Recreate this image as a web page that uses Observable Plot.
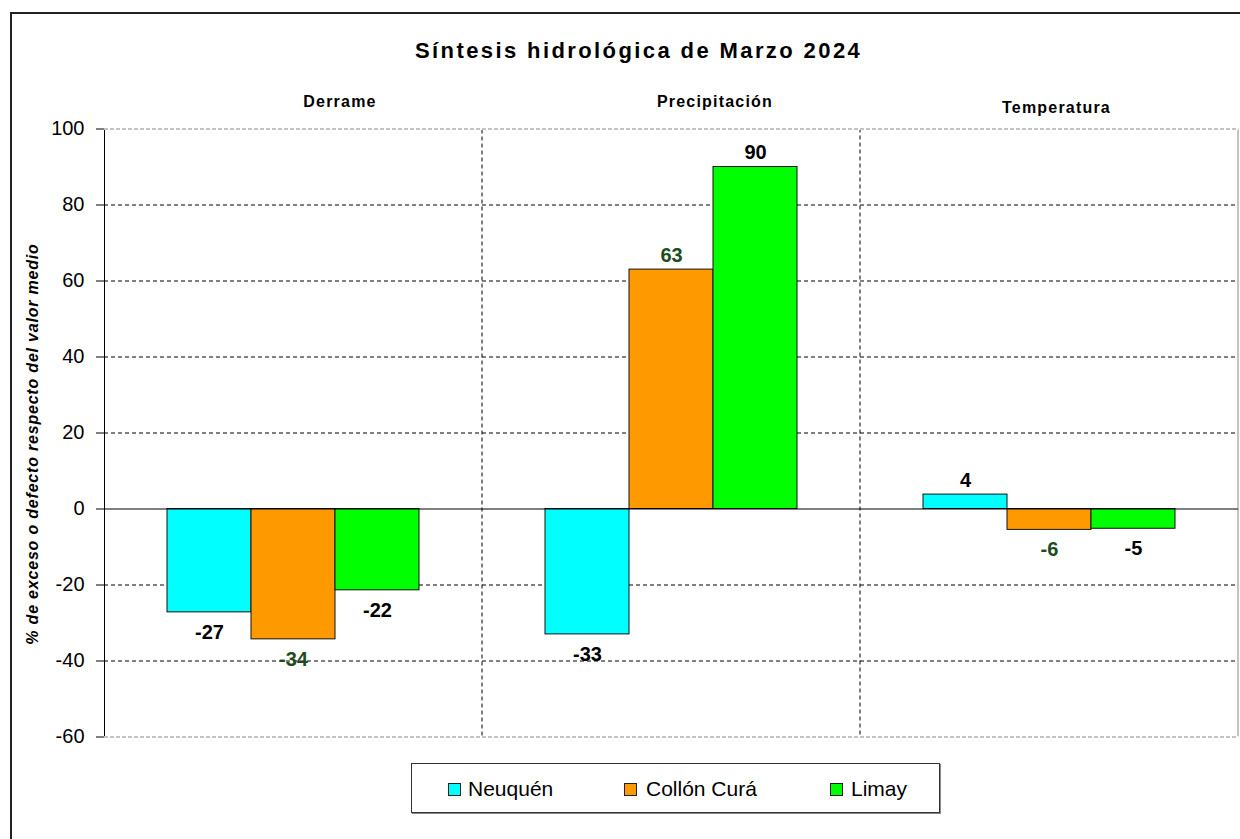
<!DOCTYPE html>
<html>
<head>
<meta charset="utf-8">
<script src="https://cdn.jsdelivr.net/npm/d3@7"></script>
<script src="https://cdn.jsdelivr.net/npm/@observablehq/plot@0.6"></script>
<style>
  html, body { margin: 0; padding: 0; background: #fff; }
  body { width: 1240px; height: 839px; position: relative; overflow: hidden;
         font-family: "Liberation Sans", Arial, sans-serif; color: #000; }
  #frame { position: absolute; left: 10px; top: 12px; width: 1400px; height: 1000px;
           border-left: 2px solid #222; border-top: 2px solid #222; box-sizing: border-box; }
  #title { position: absolute; left: 415px; top: 38px; font-size: 22px; font-weight: bold;
           letter-spacing: 2.4px; white-space: nowrap; line-height: 26px; }
  #chart { position: absolute; left: 0; top: 70px; }
  #ylabel { position: absolute; left: -217px; top: 434px; width: 500px; height: 20px; line-height: 20px;
            text-align: center; transform: rotate(-90deg); font-size: 16px; font-weight: bold;
            font-style: italic; letter-spacing: 0.8px; white-space: nowrap; }
  #legend { position: absolute; left: 411px; top: 763px; width: 529px; height: 50px; box-sizing: border-box;
            border: 1.5px solid #333; box-shadow: 1px 1px 0 #888; background: #fff; }
  .item { position: absolute; top: 0; height: 50px; }
  .sw { position: absolute; top: 19px; width: 13px; height: 13px; box-sizing: border-box; border: 1px solid #222; }
  .lbl { position: absolute; top: 13px; font-size: 21px; line-height: 24px; white-space: nowrap; }
</style>
</head>
<body>
<div id="frame"></div>
<div id="title">Síntesis hidrológica de Marzo 2024</div>
<div id="chart"></div>
<div id="ylabel">% de exceso o defecto respecto del valor medio</div>
<div id="legend"></div>
<script>
// ---- data ----
const categories = ["Derrame", "Precipitación", "Temperatura"];
const series = ["Neuquén", "Collón Curá", "Limay"];
const derrameValues = [-27.2, -34.3, -21.4];
const precipitacionValues = [-33, 63, 90];
const temperaturaValues = [3.8, -5.5, -5.2];
const derrameLabels = [-27, -34, -22];
const precipitacionLabels = [-33, 63, 90];
const temperaturaLabels = [4, -6, -5];
const yTicks = [-60, -40, -20, 0, 20, 40, 60, 80, 100];

// ---- styles ----
const seriesColors = {"Neuquén": "#00FFFF", "Collón Curá": "#FF9900", "Limay": "#00FF00"};
const labelColors = {"Neuquén": "#000000", "Collón Curá": "#1d4d1d", "Limay": "#000000"};
const facetLabelOffset = {
  "Derrame": {dx: 46.5, dy: -22.5},
  "Precipitación": {dx: 43.5, dy: -22.5},
  "Temperatura": {dx: 7, dy: -16.5}
};

const valueTable = [derrameValues, precipitacionValues, temperaturaValues];
const labelTable = [derrameLabels, precipitacionLabels, temperaturaLabels];
const rows = categories.flatMap((c, i) => series.map((s, j) => ({
  category: c, series: s, value: valueTable[i][j], label: labelTable[i][j]
})));

const W = 1240, H = 687, mt = 58.5, mb = 20.5, ml = 104, mr = 2;
const facetW = (W - ml - mr) / categories.length;
const plotH = H - mt - mb;

const chart = Plot.plot({
  width: W, height: H,
  marginTop: mt, marginBottom: mb, marginLeft: ml, marginRight: mr,
  style: {fontFamily: "'Liberation Sans', Arial, sans-serif", fontSize: "20px", color: "#000", background: "transparent", overflow: "visible"},
  fx: {domain: categories, padding: 0, axis: null},
  x: {domain: series, paddingInner: 0, paddingOuter: 0.745, axis: null},
  y: {domain: [-60, 100], ticks: yTicks, tickSize: 8, tickPadding: 12, line: true, label: null, tickFormat: d => String(d)},
  color: {type: "identity"},
  marks: [
    Plot.ruleY(yTicks.filter(t => t !== 0 && t !== 100 && t !== -60), {stroke: "#000", strokeWidth: 1, strokeDasharray: "4,3"}),
    Plot.rect([categories[1]], {fx: d => d, y1: -60, y2: 100, fill: "none", stroke: "#000", strokeWidth: 1, strokeDasharray: "4,3"}),
    Plot.rect([categories[2]], {fx: d => d, y1: -60, y2: 100, fill: "none", stroke: "#888", strokeWidth: 1,
      strokeDasharray: `0 ${facetW} ${plotH} 100000`}),
    Plot.ruleY([-60, 100], {stroke: "#fff", strokeWidth: 2}),
    Plot.ruleY([-60, 100], {stroke: "#888", strokeWidth: 1, strokeDasharray: "4,2"}),
    Plot.barY(rows, {fx: "category", x: "series", y: "value", fill: d => seriesColors[d.series], stroke: "#111", strokeWidth: 1}),
    Plot.ruleY([0], {stroke: "#000", strokeWidth: 1}),
    Plot.text(rows.filter(d => d.value > 0), {fx: "category", x: "series", y: "value", text: d => String(d.label),
      fill: d => labelColors[d.series], fontSize: 20, fontWeight: "bold", dy: -14}),
    Plot.text(rows.filter(d => d.value < 0), {fx: "category", x: "series", y: "value", text: d => String(d.label),
      fill: d => labelColors[d.series], fontSize: 20, fontWeight: "bold", dy: 20}),
    ...categories.map(c => Plot.text([c], {fx: d => d, text: d => d, frameAnchor: "top", lineAnchor: "bottom",
      dx: facetLabelOffset[c].dx, dy: facetLabelOffset[c].dy, fontSize: 16, fontWeight: "bold", fill: "#000"}))
  ]
});
d3.select(chart).selectAll("text").filter(function () { return categories.includes(this.textContent); })
  .style("letter-spacing", "1.2px");
document.getElementById("chart").appendChild(chart);

// ---- legend ----
const legendPos = [{sw: 36, tx: 56}, {sw: 212, tx: 234}, {sw: 418, tx: 439}];
const legend = document.getElementById("legend");
series.forEach((s, i) => {
  const sw = document.createElement("div");
  sw.className = "sw";
  sw.style.left = legendPos[i].sw + "px";
  sw.style.background = seriesColors[s];
  const t = document.createElement("div");
  t.className = "lbl";
  t.style.left = legendPos[i].tx + "px";
  t.textContent = s;
  legend.appendChild(sw);
  legend.appendChild(t);
});
</script>
</body>
</html>
